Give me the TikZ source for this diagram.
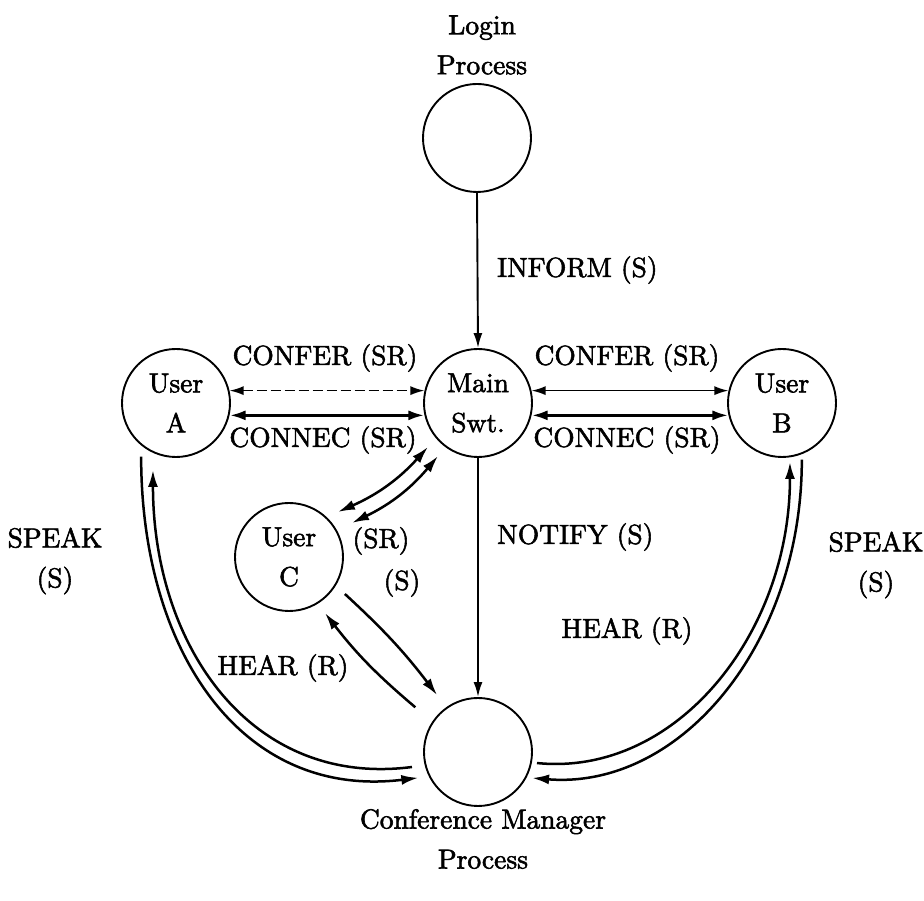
\documentclass[tikz,border=0pt]{standalone}
\usepackage{fontspec}
\setmainfont{lmroman10-regular.otf}[FakeBold=2]
\usetikzlibrary{arrows.meta,calc}
\begin{document}
\begin{tikzpicture}[x=1pt,y=1pt,
  every node/.style={font=\fontsize{27.5}{40}\selectfont},
  proc/.style={circle,draw,line width=1.9pt,minimum size=108pt,inner sep=0pt,align=center},
  lbl/.style={inner sep=0pt,align=center},
  thinarrow/.style={line width=1.7pt,{Latex[length=14pt,width=9pt]}-{Latex[length=14pt,width=9pt]}},
  thickarrow/.style={line width=3pt,{Latex[length=16pt,width=10pt]}-{Latex[length=16pt,width=10pt]}},
  flow/.style={line width=2.5pt,-{Latex[length=17pt,width=10pt]}},
  twoway/.style={line width=2.5pt,{Latex[length=17pt,width=10pt]}-{Latex[length=17pt,width=10pt]}},
  oneway/.style={line width=1.9pt,-{Latex[length=15pt,width=9pt]}}]
\useasboundingbox (0,0) rectangle (924,901);

% processes
\node[proc] (lp) at (477,763) {};
\node[proc] (ms) at (478,498) {Main\\Swt.};
\node[proc] (ua) at (176,498) {User\\A};
\node[proc] (ub) at (782,498) {User\\B};
\node[proc] (uc) at (289,344) {User\\C};
\node[proc] (cm) at (478,149) {};

\node[lbl] (lpname) at (482,856) {Login\\Process};
\node[lbl] (cmname) at (483,62) {Conference Manager\\Process};

% login and notification links
\draw[oneway] (lp.south) -- (ms.north);
\node[lbl,anchor=west] (inform) at (497,631) {INFORM (S)};
\draw[oneway] (ms.south) -- (cm.north);
\node[lbl,anchor=west] (notify) at (497,364) {NOTIFY (S)};

% user A <-> main switch
\draw[thinarrow,dash pattern=on 10pt off 4pt] (ua.13) -- (ms.167);
\draw[thickarrow] (ua.-13) -- (ms.193);
\node[lbl] (conferA) at (325,543) {CONFER (SR)};
\node[lbl] (connecA) at (323,461) {CONNEC (SR)};

% main switch <-> user B
\draw[thinarrow] (ms.13) -- (ub.167);
\draw[thickarrow] (ms.-13) -- (ub.193);
\node[lbl] (conferB) at (627,543) {CONFER (SR)};
\node[lbl] (connecB) at (627,461) {CONNEC (SR)};

% user C <-> main switch
\draw[twoway] ($(uc)+(42.6:66.5)$) to[bend right=12] ($(ms)+(221.3:66.6)$);
\draw[twoway] ($(uc)+(28.4:71.6)$) to[bend right=12] ($(ms)+(233:66.4)$);
\node[lbl] (srC) at (381,360) {(SR)};

% user C <-> conference manager
\draw[flow] ($(uc)+(-33.5:67)$) to[bend left=5] ($(cm)+(125.7:70)$);
\node[lbl] (sC) at (402,318) {(S)};
\draw[flow] ($(cm)+(144.5:77)$) to[bend left=6] ($(uc)+(-57.3:66.6)$);
\node[lbl] (hearC) at (283,233) {HEAR (R)};

% user A <-> conference manager
\draw[flow] ($(ua)+(237:64)$) .. controls +(0,-193) and +(-178,-22) .. ($(cm)+(203.4:65)$);
\draw[flow] ($(cm)+(192.8:67.7)$) .. controls +(-162,-21) and +(0,-175) .. ($(ua)+(251:70.8)$);
\node[lbl] (speakA) at (55,340) {SPEAK\\(S)};

% user B <-> conference manager
\draw[flow] ($(ub)+(289.3:60)$) .. controls +(0,-185) and +(148,-12) .. ($(cm)+(-25.7:60)$);
\draw[flow] ($(cm)+(-10.6:60)$) .. controls +(138,-14) and +(0,-173) .. ($(ub)+(-82.3:59.5)$);
\node[lbl] (speakB) at (876,336) {SPEAK\\(S)};
\node[lbl] (hearB) at (627,270) {HEAR (R)};
\end{tikzpicture}
\end{document}
